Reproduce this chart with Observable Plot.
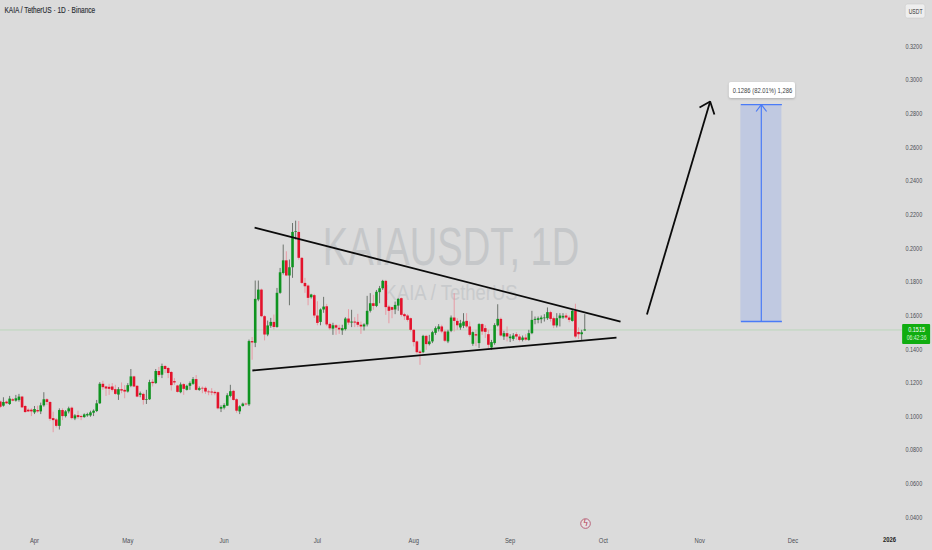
<!DOCTYPE html>
<html>
<head>
<meta charset="utf-8">
<script src="https://cdn.jsdelivr.net/npm/d3@7"></script>
<script src="https://cdn.jsdelivr.net/npm/@observablehq/plot@0.6"></script>
<style>
html,body{margin:0;padding:0;background:#dbdbdb;overflow:hidden}
svg{display:block}
</style>
</head>
<body>
<div id="chart"></div>
<script>
const firstCandle = "2025-03-21";
const opens = [
.1086,.1062,.1086,.1072,.1100,.1092,.1096,.1116,.1060,.1038,.1038,.1022,.1036,.1028,.1064,.1100,.1084,.0988,.0980,.0942,
.1036,.1000,.1028,.1050,.0986,.1006,.1000,.0994,.1004,.1004,.1020,.1030,.1076,.1192,.1176,.1174,.1176,.1160,.1128,.1160,
.1156,.1146,.1180,.1236,.1180,.1126,.1132,.1096,.1100,.1204,.1196,.1268,.1246,.1298,.1286,.1262,.1208,.1182,.1142,.1190,
.1156,.1180,.1192,.1220,.1156,.1168,.1168,.1146,.1146,.1144,.1142,.1044,.1050,.1062,.1120,.1150,.1100,.1028,.1060,.1074,
.1070,.1446,.1436,.1693,.1752,.1594,.1485,.1537,.1560,.1530,.1733,.1851,.1926,.1836,.1885,.2095,.2095,.1941,.1792,.1776,
.1707,.1719,.1598,.1560,.1634,.1653,.1548,.1520,.1540,.1525,.1510,.1517,.1580,.1556,.1562,.1560,.1543,.1533,.1545,.1626,
.1671,.1655,.1737,.1760,.1804,.1651,.1648,.1634,.1657,.1701,.1606,.1598,.1582,.1513,.1444,.1384,.1380,.1477,.1428,.1444,
.1495,.1517,.1533,.1503,.1444,.1507,.1586,.1566,.1527,.1537,.1566,.1533,.1430,.1487,.1434,.1547,.1523,.1487,.1408,.1434,
.1539,.1578,.1473,.1493,.1463,.1459,.1487,.1473,.1453,.1467,.1453,.1493,.1572,.1572,.1576,.1582,.1582,.1618,.1582,.1539,
.1582,.1586,.1598,.1586,.1566,.1626,.1500,.1487,.1509];
const closes = [
.1056,.1084,.1076,.1104,.1092,.1106,.1116,.1052,.1024,.1028,.1028,.1042,.1028,.1064,.1100,.1084,.0984,.0976,.0942,.1036,
.1000,.1028,.1046,.0988,.1004,.0994,.0994,.1010,.1012,.1022,.1032,.1076,.1192,.1172,.1164,.1162,.1156,.1132,.1160,.1152,
.1146,.1184,.1236,.1176,.1116,.1136,.1096,.1100,.1202,.1196,.1268,.1244,.1298,.1280,.1256,.1184,.1200,.1144,.1188,.1162,
.1180,.1196,.1220,.1156,.1166,.1164,.1146,.1142,.1140,.1136,.1046,.1054,.1066,.1124,.1148,.1096,.1032,.1058,.1074,.1070,
.1446,.1438,.1697,.1752,.1594,.1485,.1539,.1560,.1530,.1733,.1855,.1926,.1836,.1885,.2095,.2099,.1941,.1792,.1772,.1703,
.1723,.1598,.1554,.1634,.1651,.1545,.1522,.1540,.1526,.1515,.1523,.1580,.1556,.1562,.1556,.1543,.1533,.1545,.1626,.1671,
.1655,.1739,.1760,.1804,.1648,.1626,.1632,.1661,.1697,.1602,.1594,.1572,.1513,.1440,.1380,.1375,.1477,.1428,.1444,.1499,
.1523,.1533,.1503,.1448,.1503,.1586,.1566,.1540,.1552,.1562,.1533,.1483,.1499,.1479,.1547,.1503,.1501,.1424,.1440,.1541,
.1578,.1479,.1493,.1473,.1473,.1479,.1473,.1453,.1467,.1455,.1493,.1572,.1578,.1582,.1586,.1586,.1618,.1578,.1539,.1582,
.1598,.1596,.1586,.1572,.1626,.1473,.1487,.1498,.1515];
const highs = [
.1092,.1112,.1092,.1120,.1108,.1126,.1132,.1120,.1066,.1046,.1046,.1060,.1062,.1080,.1142,.1106,.1088,.1026,.0988,.1046,
.1046,.1036,.1056,.1056,.1012,.1032,.1008,.1016,.1020,.1032,.1040,.1096,.1202,.1210,.1180,.1192,.1196,.1186,.1172,.1200,
.1184,.1196,.1280,.1240,.1184,.1146,.1140,.1156,.1216,.1220,.1280,.1292,.1312,.1304,.1292,.1268,.1226,.1186,.1200,.1196,
.1186,.1206,.1232,.1244,.1176,.1176,.1176,.1156,.1166,.1152,.1146,.1064,.1076,.1136,.1186,.1156,.1106,.1064,.1080,.1080,
.1455,.1470,.1806,.1806,.1758,.1600,.1568,.1584,.1604,.1762,.1881,.2020,.1980,.1931,.2148,.2162,.2160,.1945,.1822,.1782,
.1727,.1727,.1683,.1640,.1709,.1667,.1556,.1555,.1546,.1543,.1543,.1588,.1636,.1632,.1588,.1608,.1562,.1552,.1715,.1731,
.1721,.1750,.1774,.1810,.1810,.1661,.1651,.1681,.1701,.1705,.1614,.1606,.1586,.1517,.1448,.1394,.1483,.1483,.1483,.1507,
.1533,.1547,.1543,.1513,.1513,.1598,.1731,.1582,.1572,.1612,.1612,.1562,.1503,.1513,.1552,.1552,.1540,.1513,.1453,.1552,
.1665,.1586,.1507,.1533,.1487,.1493,.1499,.1487,.1479,.1487,.1513,.1626,.1592,.1592,.1598,.1606,.1646,.1626,.1592,.1612,
.1612,.1612,.1612,.1598,.1632,.1668,.1527,.1513,.1606];
const lows = [
.1048,.1056,.1072,.1066,.1088,.1086,.1086,.1048,.1020,.1024,.1000,.1012,.1020,.1012,.1056,.1066,.0972,.0904,.0932,.0920,
.0976,.0992,.1016,.0980,.0976,.0984,.0976,.0990,.0996,.0996,.1000,.1024,.1072,.1156,.1120,.1126,.1146,.1126,.1096,.1136,
.1106,.1140,.1172,.1172,.1112,.1112,.1068,.1072,.1096,.1176,.1192,.1232,.1226,.1256,.1226,.1152,.1186,.1140,.1136,.1126,
.1152,.1156,.1186,.1152,.1150,.1136,.1132,.1124,.1124,.1124,.1040,.1024,.1040,.1060,.1112,.1092,.1020,.1012,.1056,.1064,
.1060,.1335,.1410,.1683,.1588,.1450,.1475,.1525,.1515,.1525,.1727,.1842,.1832,.1659,.1822,.2050,.1930,.1786,.1733,.1659,
.1699,.1584,.1540,.1540,.1614,.1535,.1512,.1483,.1483,.1489,.1483,.1509,.1543,.1529,.1529,.1529,.1489,.1509,.1533,.1616,
.1632,.1648,.1671,.1750,.1602,.1552,.1582,.1606,.1626,.1592,.1572,.1562,.1503,.1414,.1372,.1305,.1374,.1394,.1420,.1434,
.1483,.1503,.1493,.1440,.1434,.1499,.1503,.1513,.1513,.1523,.1523,.1473,.1418,.1416,.1404,.1483,.1465,.1404,.1394,.1424,
.1533,.1473,.1453,.1444,.1440,.1448,.1453,.1444,.1444,.1448,.1448,.1487,.1546,.1552,.1552,.1562,.1572,.1562,.1523,.1527,
.1533,.1578,.1578,.1558,.1562,.1463,.1459,.1453,.1507];

const priceTicks = [.04,.06,.08,.10,.12,.14,.16,.18,.20,.22,.24,.26,.28,.30,.32];
const monthTicks = ["2025-04-01","2025-05-01","2025-06-01","2025-07-01","2025-08-01","2025-09-01","2025-10-01","2025-11-01","2025-12-01"];
const monthNames = ["Apr","May","Jun","Jul","Aug","Sep","Oct","Nov","Dec"];
const lastPrice = 0.1515;

const upperTrendDates = ["2025-06-10T19:00Z","2025-10-06T12:00Z"];
const upperTrendPrices = [.2124,.1565];
const lowerTrendDates = ["2025-06-10T02:00Z","2025-10-05T05:00Z"];
const lowerTrendPrices = [.1274,.1470];
const arrowDates = ["2025-10-15T00:00Z","2025-11-04T08:00Z"];
const arrowPrices = [.1607,.2873];
const arrowHeadDates = ["2025-10-31T22:00Z","2025-11-04T08:00Z","2025-11-05T17:00Z"];
const arrowHeadPrices = [.2838,.2873,.2796];
const targetStart = "2025-11-14T05:00Z", targetEnd = "2025-11-27T10:00Z", targetMid = "2025-11-20T19:00Z";
const targetLow = .1565, targetHigh = .2855;
const targetHeadDates = ["2025-11-19T03:00Z",targetMid,"2025-11-22T12:00Z"];
const targetHeadPrices = [.2814,targetHigh,.2814];
const labelBoxDates = ["2025-11-10T12:00Z","2025-12-01T19:00Z"];
const labelBoxPrices = [.2891,.2986];
const labelDate = "2025-11-21T04:00Z", labelPrice = .2938;
const labelText = "0.1286 (82.01%) 1,286";
const tagDates = ["2026-01-05T06:00Z","2026-01-14T06:00Z"];
const tagPrices = [.1429,.1547];
const tagTextDate = "2026-01-09T18:00Z";
const countdown = "06:42:36";
const unitBoxDates = ["2026-01-06T06:00Z","2026-01-12T14:00Z"];
const unitBoxPrices = [.3367,.3450];
const iconDate = "2025-09-25T06:00Z", iconPrice = .0364;
const watermarkDate = "2025-08-13", watermarkPrice = .2000, watermarkSubPrice = .1738;

const FONT = "'Liberation Sans',sans-serif";
const candles = opens.map((o,i)=>({date:d3.utcDay.offset(new Date(firstCandle),i),o,c:closes[i],h:highs[i],l:lows[i]}));
const up = candles.filter(d=>d.c>=d.o), down = candles.filter(d=>d.c<d.o);
const seg = (ds,ps)=>ds.map((d,i)=>({x:new Date(d),y:ps[i]}));
const line = (ds,ps,stroke,sw)=>Plot.line(seg(ds,ps),{x:"x",y:"y",stroke,strokeWidth:sw,strokeLinecap:"butt",strokeLinejoin:"miter",curve:"linear"});

const chart = Plot.plot({
  width:932,height:550,
  marginLeft:0,marginTop:0,marginRight:30,marginBottom:20,
  style:{background:"#dbdbdb",fontFamily:FONT,overflow:"visible"},
  x:{type:"utc",domain:[new Date("2025-03-21T01:30Z"),new Date("2026-01-05T05:00Z")]},
  y:{type:"linear",domain:[.03227,.3474]},
  marks:[
    Plot.text(["KAIAUSDT, 1D"],{x:()=>new Date(watermarkDate),y:()=>watermarkPrice,text:d=>d,fontSize:53,fill:"#c5c7c9",fontFamily:FONT}),
    Plot.text(["KAIA / TetherUS"],{x:()=>new Date(watermarkDate),y:()=>watermarkSubPrice,text:d=>d,fontSize:22,fill:"#c8cacc",fontFamily:FONT}),
    Plot.ruleY([lastPrice],{stroke:"#bcd6bc",strokeWidth:1}),
    Plot.ruleX(down,{x:"date",y1:"l",y2:"h",stroke:"#e79aa4",strokeWidth:1}),
    Plot.ruleX(up,{x:"date",y1:"l",y2:"h",stroke:"#6c736d",strokeWidth:1}),
    Plot.ruleX(down,{x:"date",y1:"o",y2:"c",stroke:"#e3132c",strokeWidth:2.6}),
    Plot.ruleX(up,{x:"date",y1:"o",y2:"c",stroke:"#0f9420",strokeWidth:2.6}),
    line(upperTrendDates,upperTrendPrices,"#0b0b0b",1.8),
    line(lowerTrendDates,lowerTrendPrices,"#0b0b0b",1.8),
    line(arrowDates,arrowPrices,"#0b0b0b",1.8),
    line(arrowHeadDates,arrowHeadPrices,"#0b0b0b",1.8),
    Plot.rect([0],{x1:()=>new Date(targetStart),x2:()=>new Date(targetEnd),y1:()=>targetLow,y2:()=>targetHigh,fill:"#c0c9e1"}),
    line([targetStart,targetEnd],[targetHigh,targetHigh],"#4a7bf7",1.4),
    line([targetStart,targetEnd],[targetLow,targetLow],"#4a7bf7",1.4),
    line([targetMid,targetMid],[targetLow,targetHigh],"#4a7bf7",1.2),
    line(targetHeadDates,targetHeadPrices,"#4a7bf7",1.2),
    Plot.rect([0],{x1:()=>new Date(labelBoxDates[0]),x2:()=>new Date(labelBoxDates[1]),y1:()=>labelBoxPrices[0],y2:()=>labelBoxPrices[1],fill:"#ffffff",rx:2,imageFilter:"drop-shadow(0 1px 1px #0003)"}),
    Plot.text([labelText],{x:()=>new Date(labelDate),y:()=>labelPrice,text:d=>d,fontSize:7.5,fill:"#3c3f45",fontFamily:FONT}),
    Plot.dot([0],{x:()=>new Date(iconDate),y:()=>iconPrice,r:4.8,fill:"#e6e0e2",stroke:"#b2566e",strokeWidth:0.9}),
    Plot.text(["ϟ"],{x:()=>new Date(iconDate),y:()=>iconPrice,text:d=>d,fontSize:8,fill:"#b2364e",fontFamily:"'DejaVu Sans'"}),
    Plot.axisY({anchor:"right",ticks:priceTicks,tickSize:0,tickPadding:3,tickFormat:d3.format(".4f"),label:null,fontSize:7,color:"#4c4f55",fontFamily:FONT}),
    Plot.axisX({anchor:"bottom",ticks:monthTicks.map(d=>new Date(d)),tickSize:0,tickPadding:7,tickFormat:d=>monthNames[d.getUTCMonth()-3],label:null,fontSize:7.5,color:"#4c4f55",fontFamily:FONT}),
    Plot.text(["2026"],{x:()=>new Date("2026-01-01"),frameAnchor:"bottom",dy:11,text:d=>d,fontSize:7.5,fontWeight:"bold",fill:"#222",fontFamily:FONT}),
    Plot.text(["KAIA / TetherUS · 1D · Binance"],{frameAnchor:"top-left",dx:4,dy:7,text:d=>d,fontSize:8.4,fill:"#2a2d33",stroke:"#2a2d33",strokeWidth:0.15,fontFamily:FONT,textAnchor:"start"}),
    Plot.rect([0],{x1:()=>new Date(tagDates[0]),x2:()=>new Date(tagDates[1]),y1:()=>tagPrices[0],y2:()=>tagPrices[1],fill:"#10ad10",rx:1}),
    Plot.text(["0.1515"],{x:()=>new Date(tagTextDate),y:()=>lastPrice,text:d=>d,fontSize:7,fill:"#ffffff",fontFamily:FONT}),
    Plot.text([countdown],{x:()=>new Date(tagTextDate),y:()=>.1467,text:d=>d,fontSize:6.5,fill:"#d8f5d8",fontFamily:FONT}),
    Plot.rect([0],{x1:()=>new Date(unitBoxDates[0]),x2:()=>new Date(unitBoxDates[1]),y1:()=>unitBoxPrices[0],y2:()=>unitBoxPrices[1],fill:"#eeeeee",stroke:"#c8c8c8",strokeWidth:0.5,rx:2}),
    Plot.text(["USDT"],{x:()=>new Date("2026-01-09T10:00Z"),y:()=>.3408,text:d=>d,fontSize:6.5,fill:"#333",fontFamily:FONT})
  ]
});
document.getElementById("chart").appendChild(chart);
// The reference uses a narrow typeface: condense each label horizontally to match.
chart.querySelectorAll("text").forEach(t=>{
  const size = parseFloat(getComputedStyle(t).fontSize);
  const squeeze = size>=50 ? 0.72 : size>=20 ? 0.84 : 0.78;
  const len = t.getComputedTextLength();
  if (len>0 && t.textContent!=="ϟ") {
    t.setAttribute("textLength", (len*squeeze).toFixed(1));
    t.setAttribute("lengthAdjust","spacingAndGlyphs");
  }
});
</script>
</body>
</html>
